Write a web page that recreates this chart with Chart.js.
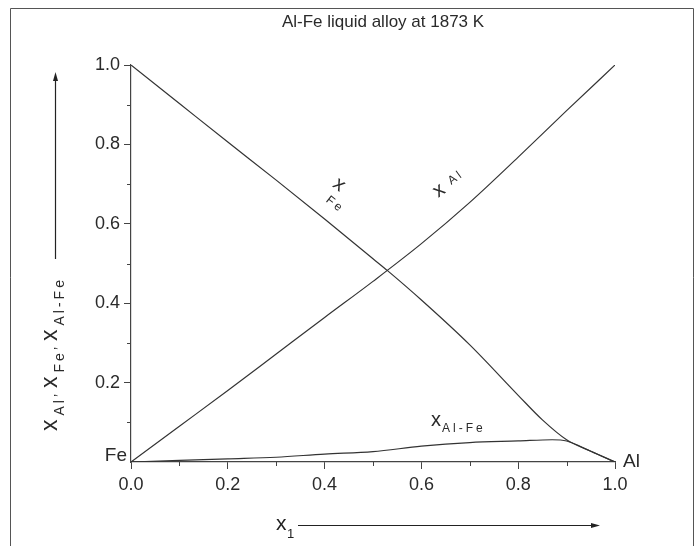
<!DOCTYPE html>
<html>
<head>
<meta charset="utf-8">
<script src="https://cdn.jsdelivr.net/npm/chart.js@4"></script>
<style>
  html, body { margin: 0; padding: 0; background: #fff; }
  #wrap { width: 699px; height: 546px; position: relative; }
</style>
</head>
<body>
<div id="wrap"><canvas id="chart" width="699" height="546"></canvas></div>
<script>
// mole fraction of Al (x1) and the three curves
const feX = [0, 0.1, 0.2, 0.3, 0.4, 0.5, 0.53, 0.6, 0.7, 0.8, 0.85, 0.9, 0.95, 1.0];
const feY = [1.0, 0.903, 0.806, 0.71, 0.612, 0.512, 0.482, 0.408, 0.295, 0.168, 0.106, 0.056, 0.027, 0];

const alX = [0, 0.1, 0.2, 0.3, 0.4, 0.5, 0.6, 0.7, 0.8, 0.9, 1.0];
const alY = [0, 0.09, 0.18, 0.272, 0.364, 0.455, 0.55, 0.654, 0.768, 0.885, 1.0];

const alFeX = [0, 0.1, 0.2, 0.3, 0.4, 0.5, 0.6, 0.7, 0.8, 0.87, 0.9, 0.95, 1.0];
const alFeY = [0, 0.004, 0.008, 0.012, 0.02, 0.026, 0.04, 0.049, 0.053, 0.056, 0.053, 0.027, 0];

const xTicks = [0, 0.2, 0.4, 0.6, 0.8, 1.0];
const yTicks = [0.2, 0.4, 0.6, 0.8, 1.0];
const minorTicks = [0.1, 0.3, 0.5, 0.7, 0.9];

const FONT = '"Liberation Sans", Arial, sans-serif';
const INK = '#2a2a2a';

function pts(xs, ys) {
    return xs.map((x, i) => ({ x: x, y: ys[i] }));
}

function lineSet(label, xs, ys) {
    return {
        label: label,
        data: pts(xs, ys),
        showLine: true,
        borderColor: '#333',
        borderWidth: 1.2,
        pointRadius: 0,
        cubicInterpolationMode: 'monotone',
        fill: false
    };
}

// draws x with a spaced-out subscript, optionally rotated
function subLabel(ctx, x, y, main, sub, angle, subDx, subDy) {
    ctx.save();
    ctx.translate(x, y);
    ctx.rotate(angle * Math.PI / 180);
    ctx.fillStyle = INK;
    ctx.textBaseline = 'alphabetic';
    ctx.textAlign = 'left';
    ctx.font = '20px ' + FONT;
    ctx.fillText(main, 0, 0);
    ctx.font = '12px ' + FONT;
    ctx.letterSpacing = '3px';
    ctx.fillText(sub, subDx, subDy);
    ctx.restore();
}

const decor = {
    id: 'decor',
    afterDraw(chart) {
        const ctx = chart.ctx;
        const xs = chart.scales.x, ys = chart.scales.y;

        // minor ticks
        ctx.save();
        ctx.strokeStyle = '#444';
        ctx.lineWidth = 1;
        minorTicks.forEach(v => {
            const px = Math.round(xs.getPixelForValue(v)) + 0.5;
            ctx.beginPath();
            ctx.moveTo(px, ys.bottom);
            ctx.lineTo(px, ys.bottom + 4);
            ctx.stroke();
            const py = Math.round(ys.getPixelForValue(v)) + 0.5;
            ctx.beginPath();
            ctx.moveTo(xs.left, py);
            ctx.lineTo(xs.left - 4, py);
            ctx.stroke();
        });

        // outer frame
        ctx.strokeStyle = '#555';
        ctx.beginPath();
        ctx.moveTo(10.5, 546);
        ctx.lineTo(10.5, 8.5);
        ctx.lineTo(693.5, 8.5);
        ctx.lineTo(693.5, 546);
        ctx.stroke();
        ctx.restore();

        // title
        ctx.save();
        ctx.fillStyle = INK;
        ctx.font = '17px ' + FONT;
        ctx.textAlign = 'center';
        ctx.textBaseline = 'middle';
        ctx.fillText('Al-Fe liquid alloy at 1873 K', 383, 22);

        // end-member labels
        ctx.font = '19px ' + FONT;
        ctx.textAlign = 'right';
        ctx.textBaseline = 'alphabetic';
        ctx.fillText('Fe', xs.left - 4, ys.bottom - 1);
        ctx.textAlign = 'left';
        ctx.fillText('Al', xs.right + 8, ys.bottom + 5);
        ctx.restore();

        // curve labels
        subLabel(ctx, xs.getPixelForValue(0.415), ys.getPixelForValue(0.695), 'x', 'Fe', 38, 4, 16);
        subLabel(ctx, xs.getPixelForValue(0.635), ys.getPixelForValue(0.665), 'x', 'Al', -36, 18, -3);
        subLabel(ctx, xs.getPixelForValue(0.62), ys.getPixelForValue(0.09), 'x', 'Al-Fe', 0, 11, 6);

        // y axis title with arrow
        ctx.save();
        ctx.translate(57, 431);
        ctx.rotate(-Math.PI / 2);
        ctx.fillStyle = INK;
        ctx.textBaseline = 'alphabetic';
        ctx.textAlign = 'left';
        let cx = 0;
        [['x', 'Al\u2019'], ['x', 'Fe\u2019'], ['x', 'Al-Fe']].forEach(p => {
            ctx.font = '23px ' + FONT;
            ctx.letterSpacing = '0px';
            ctx.fillText(p[0], cx, 0);
            cx += ctx.measureText(p[0]).width + 4;
            ctx.font = '14px ' + FONT;
            ctx.letterSpacing = '3px';
            ctx.fillText(p[1], cx, 7);
            cx += ctx.measureText(p[1]).width + 3;
        });
        ctx.restore();

        ctx.save();
        ctx.strokeStyle = '#222';
        ctx.fillStyle = '#222';
        ctx.lineWidth = 1.2;
        ctx.beginPath();
        ctx.moveTo(55.5, 259);
        ctx.lineTo(55.5, 80);
        ctx.stroke();
        ctx.beginPath();
        ctx.moveTo(55.5, 72);
        ctx.lineTo(53, 81);
        ctx.lineTo(58, 81);
        ctx.closePath();
        ctx.fill();

        // x axis title with arrow
        ctx.font = '21px ' + FONT;
        ctx.textAlign = 'left';
        ctx.textBaseline = 'alphabetic';
        ctx.fillText('x', 276, 530);
        ctx.font = '13px ' + FONT;
        ctx.fillText('1', 287, 538);
        ctx.beginPath();
        ctx.moveTo(298, 525.5);
        ctx.lineTo(592, 525.5);
        ctx.stroke();
        ctx.beginPath();
        ctx.moveTo(600, 525.5);
        ctx.lineTo(591, 523);
        ctx.lineTo(591, 528);
        ctx.closePath();
        ctx.fill();
        ctx.restore();
    }
};

new Chart(document.getElementById('chart'), {
    type: 'scatter',
    data: {
        datasets: [
            lineSet('x_Fe', feX, feY),
            lineSet('x_Al', alX, alY),
            lineSet('x_Al-Fe', alFeX, alFeY)
        ]
    },
    options: {
        responsive: false,
        animation: false,
        layout: { padding: { left: 0, top: 65, right: 84, bottom: 0 } },
        plugins: {
            legend: { display: false },
            tooltip: { enabled: false }
        },
        scales: {
            x: {
                type: 'linear',
                min: 0,
                max: 1,
                afterFit(scale) { scale.height = 84; },
                afterBuildTicks(scale) { scale.ticks = xTicks.map(v => ({ value: v })); },
                border: { display: true, color: '#444', width: 1.2 },
                grid: { drawOnChartArea: false, tickLength: 7, tickColor: '#444' },
                ticks: {
                    color: INK,
                    padding: 5,
                    font: { family: FONT, size: 18 },
                    callback: v => v.toFixed(1)
                }
            },
            y: {
                type: 'linear',
                min: 0,
                max: 1,
                afterFit(scale) { scale.width = 131; },
                afterBuildTicks(scale) { scale.ticks = yTicks.map(v => ({ value: v })); },
                border: { display: true, color: '#444', width: 1.2 },
                grid: { drawOnChartArea: false, tickLength: 7, tickColor: '#444' },
                ticks: {
                    color: INK,
                    padding: 4,
                    font: { family: FONT, size: 18 },
                    callback: v => v.toFixed(1)
                }
            }
        }
    },
    plugins: [decor]
});
</script>
</body>
</html>
